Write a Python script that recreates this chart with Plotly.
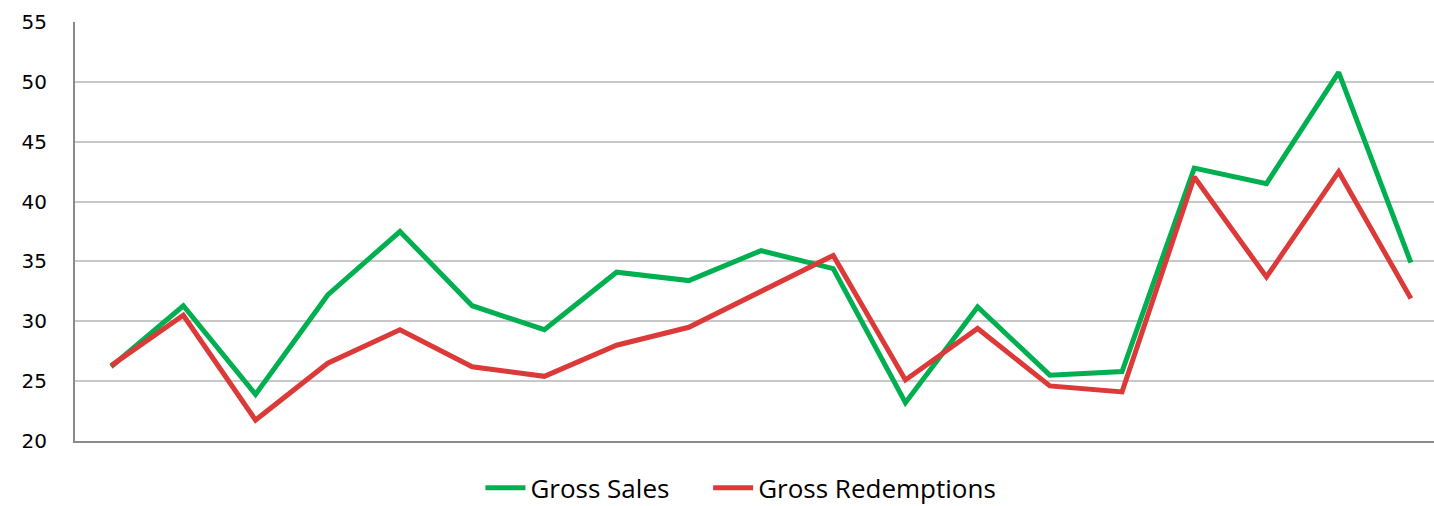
import plotly.graph_objects as go

categories = list(range(1, 20))
gross_sales = [26.2, 31.3, 23.9, 32.2, 37.5, 31.3, 29.3, 34.1, 33.4, 35.9,
               34.4, 23.2, 31.2, 25.5, 25.8, 42.8, 41.5, 50.8, 34.9]
gross_redemptions = [26.3, 30.5, 21.75, 26.5, 29.3, 26.2, 25.4, 28.0, 29.5, 32.5,
                     35.5, 25.1, 29.4, 24.6, 24.1, 42.05, 33.7, 42.5, 31.9]
y_ticks = [20, 25, 30, 35, 40, 45, 50, 55]
series_names = ["Gross Sales", "Gross Redemptions"]

xidx = list(range(len(categories)))

fig = go.Figure()
fig.add_trace(go.Scatter(x=xidx, y=gross_sales, mode="lines",
                         name=series_names[0] + "\u00a0" * 5,
                         line=dict(color="#00AF50", width=5)))
fig.add_trace(go.Scatter(x=xidx, y=gross_redemptions, mode="lines",
                         name=series_names[1],
                         line=dict(color="#DC3939", width=5)))

fig.update_layout(
    width=1434, height=506,
    margin=dict(l=75, r=0, t=22, b=65, autoexpand=False),
    plot_bgcolor="white", paper_bgcolor="white",
    showlegend=True,
    legend=dict(orientation="h", x=0.49, xanchor="center",
                yref="container", y=0.036, yanchor="middle",
                font=dict(family="Open Sans", size=26, color="#000000"),
                itemwidth=40, tracegroupgap=0),
    xaxis=dict(range=[-0.5, 18.32], showticklabels=False, showgrid=False,
               zeroline=False, showline=True, linecolor="#8a8a8a", linewidth=2,
               ticks=""),
    yaxis=dict(range=[20, 55], tickvals=y_ticks, showgrid=True,
               gridcolor="#c8c8c8", gridwidth=1.5, zeroline=False,
               showline=True, linecolor="#8a8a8a", linewidth=2,
               tickfont=dict(family="DejaVu Sans", size=20, color="#000000"),
               ticks="", ticklabelstandoff=22),
)

fig.write_html("out.html", config={"displayModeBar": False},
               post_script="document.body.style.margin='0';document.body.style.overflow='hidden';")
